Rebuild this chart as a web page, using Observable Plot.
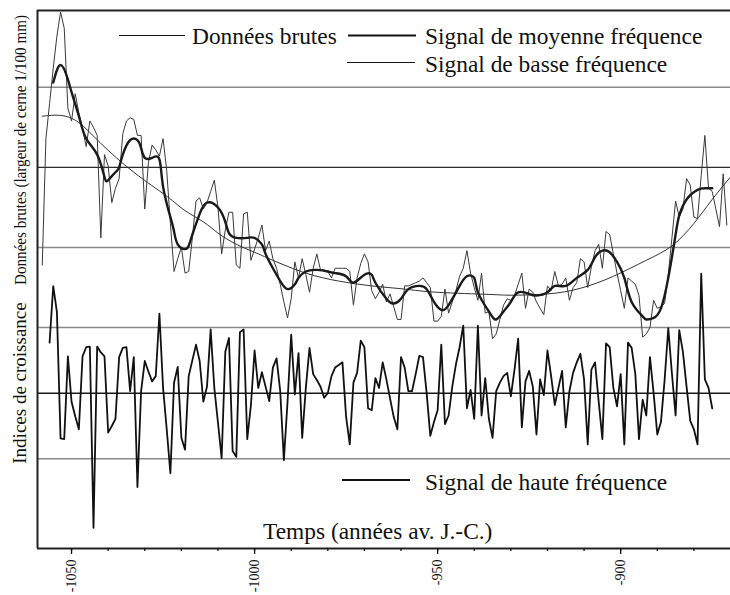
<!DOCTYPE html>
<html><head><meta charset="utf-8">
<script src="https://cdn.jsdelivr.net/npm/d3@7"></script>
<script src="https://cdn.jsdelivr.net/npm/@observablehq/plot@0.6"></script>
<style>body{margin:0;background:#fff}#chart{width:730px;height:595px}</style>
</head><body><div id="chart"></div>
<script>
// ---------- data ----------
// Raw ring widths (1/100 mm), one value per year starting at rawStart
const rawStart = -1058;
const rawValues = [
 89,168,190,212,232,247,237,187,179,196, 184,174,163,179,175,170,106,158,151,128,
 137,143,171,179,181,180,170,170,124,153, 164,161,157,168,148,115,85,93,100,84,
 85,106,129,131,124,128,135,142,125,96, 111,122,122,89,87,121,122,92,99,106,
 114,98,104,93,87,77,66,56,68,91, 81,93,83,72,87,96,86,86,85,81,
 87,87,87,87,85,64,81,90,96,91, 73,68,72,77,66,71,63,55,55,76,
 76,77,78,79,81,78,75,54,54,57, 74,59,66,73,82,87,98,84,75,67,
 84,59,60,43,46,55,64,68,67,70, 77,84,62,74,72,66,62,58,76,73,
 85,76,77,81,67,75,78,93,91,75, 88,98,102,87,110,108,96,84,73,62,
 81,79,77,70,44,46,50,67,62,63, 65,83,106,129,119,124,143,139,119,118,
 145,170,137,135,124,113,146,114
];
// High-frequency growth indices (deviation units), one per year from hfStart
const hfStart = -1056;
const hfValues = [
 0.77,1.63,1.24,-0.69,-0.70,0.56,-0.13,-0.35,-0.55,0.56, 0.70,0.71,-2.05,0.71,0.62,0.56,-0.60,-0.50,-0.39,0.55,
 0.69,0.70,0.03,0.55,-1.43,0.03,0.49,0.33,0.18,0.26, 1.21,0.08,-0.55,-1.22,0.16,0.40,-0.68,-0.86,0.26,0.50,
 0.74,0.49,-0.13,0.10,0.97,0.08,-0.45,-0.99,0.63,0.84, -0.88,-0.97,0.93,0.97,-0.70,-0.18,0.65,0.08,0.32,0.10,
 -0.12,0.39,0.53,0.03,-1.02,-0.13,0.89,-0.02,0.61,-0.68, 0.08,0.69,0.29,0.20,0.10,-0.07,0.00,0.26,0.39,0.43,
 0.47,-0.36,-0.78,0.16,0.31,0.80,0.70,-0.23,-0.26,0.23, 0.08,0.47,0.21,-0.08,-0.36,-0.55,0.55,0.39,0.03,0.03,
 0.29,0.57,0.55,0.00,-0.65,-0.44,-0.26,0.74,-0.47,-0.34, 0.10,0.44,0.70,1.03,-0.23,0.05,-0.39,1.03,-0.34,0.23,
 -0.39,-0.68,0.03,0.16,0.26,0.31,-0.05,0.36,0.83,-0.52, 0.18,0.34,0.10,-0.63,0.21,-0.03,0.65,0.26,-0.18,0.08,
 0.34,-0.52,0.03,0.31,0.47,0.60,0.21,-0.78,0.36,0.47, -0.13,-0.70,0.76,0.70,0.08,-0.20,0.29,-0.78,0.77,0.69,
 0.29,-0.70,-0.10,-0.34,0.55,0.00,-0.63,-0.44,0.20,0.99, 0.30,-0.34,0.96,0.63,0.10,-0.42,-0.55,-0.78,1.82,0.21,
 0.08,-0.23
];
// Medium-frequency signal (smooth curve), sampled years and values
const mediumYears = [-1055,-1053,-1051,-1050,-1048,-1046,-1043,-1041,-1040,-1038,-1037,-1036,-1034,-1032,-1031,-1030,-1028,-1026,-1025,-1023,-1022,-1021,-1019,-1018,-1017,-1015,-1013,-1010,-1008,-1007,-1005,-1002,-1000,-998,-997,-995,-993,-991,-989,-988,-986,-983,-980,-978,-975,-973,-970,-968,-967,-964,-962,-960,-958,-955,-953,-951,-949,-947,-944,-942,-940,-939,-936,-934,-932,-930,-928,-925,-923,-920,-918,-915,-912,-909,-907,-905,-903,-901,-899,-897,-894,-893,-891,-889,-887,-885,-884,-882,-879,-877,-875];
const mediumValues = [203,214,205,197,182,168,158,144,142,147,150,158,167,167,162,156,156,155,138,119,110,102,99,101,108,121,128,125,116,109,106,106,106,102,96,87,79,74,77,81,85,86,85,84,82,78,83,83,78,68,65,68,74,76,74,66,61,64,76,82,81,72,60,55,60,66,72,71,70,72,76,76,81,86,94,98,97,91,81,66,57,55,56,62,81,108,120,130,136,137,137];
// Low-frequency signal (age trend)
const lowYears = [-1058,-1053,-1048,-1042,-1033,-1024,-1019,-1014,-1010,-1005,-1000,-995,-986,-977,-968,-959,-950,-936,-930,-920,-911,-902,-893,-886,-880,-875,-870];
const lowValues = [182,182.5,178,165,147,132,123,116,109,102,97,92,84,79,76,74,72,70.7,70.2,71,74.5,82,92,101,115,130,144];
// Axis / grid
const tickYears = [-1050,-1000,-950,-900];
const minorTickYears = [-1050,-1040,-1030,-1020,-1010,-1000,-990,-980,-970,-960,-950,-940,-930,-920,-910,-900,-890,-880];
const gridGrayRaw = [200,100,50];
const gridDarkRaw = [150];
const gridGrayIdx = [-1];
const gridDarkIdx = [0];

// ---------- scales ----------
const X_DOMAIN = [-1059.3, -870];
const Y_DOMAIN = [-88, 248];          // raw-width units
const IDX_ZERO = 9, IDX_UNIT = 41;    // index panel placed on the same axis
const idxY = v => IDX_ZERO + v * IDX_UNIT;

const raw = rawValues.map((v, i) => ({year: rawStart + i, v}));
const hf = hfValues.map((v, i) => ({year: hfStart + i, v}));
const medium = mediumYears.map((year, i) => ({year, v: mediumValues[i]}));
const low = lowYears.map((year, i) => ({year, v: lowValues[i]}));

const FONT = "'Liberation Serif', 'DejaVu Serif', serif";

const chart = Plot.plot({
  width: 730, height: 595,
  marginTop: 10, marginLeft: 37, marginRight: 0, marginBottom: 47,
  style: {fontFamily: FONT, background: "#fff", color: "#111"},
  x: {domain: X_DOMAIN},
  y: {domain: Y_DOMAIN, axis: null},
  marks: [
    Plot.ruleY(gridGrayRaw, {y: d => d, stroke: "#8a8a8a", strokeWidth: 1.5}),
    Plot.ruleY(gridDarkRaw, {y: d => d, stroke: "#2a2a2a", strokeWidth: 1.3}),
    Plot.ruleY(gridGrayIdx, {y: d => idxY(d), stroke: "#8a8a8a", strokeWidth: 1.5}),
    Plot.ruleY(gridDarkIdx, {y: d => idxY(d), stroke: "#1a1a1a", strokeWidth: 1.5}),
    Plot.line(low, {x: "year", y: "v", curve: "natural", stroke: "#333", strokeWidth: 1}),
    Plot.line(raw, {x: "year", y: "v", stroke: "#3a3a3a", strokeWidth: 1}),
    Plot.line(medium, {x: "year", y: "v", curve: "natural", stroke: "#1a1a1a", strokeWidth: 2.4}),
    Plot.line(hf, {x: "year", y: d => idxY(d.v), stroke: "#111", strokeWidth: 1.8}),
    Plot.ruleX([X_DOMAIN[0]], {stroke: "#222", strokeWidth: 2}),
    Plot.ruleY([Y_DOMAIN[1]], {stroke: "#222", strokeWidth: 2.2}),
    Plot.ruleY([Y_DOMAIN[0]], {stroke: "#222", strokeWidth: 2}),
    Plot.axisX({ticks: minorTickYears, tickSize: 3, tickFormat: () => "", label: null, strokeWidth: 1.3}),
    Plot.axisX({ticks: tickYears, tickSize: 6, tickPadding: 5, tickRotate: -90,
      tickFormat: d => String(d), fontSize: 14, label: null, strokeWidth: 1.3})
  ]
});
document.getElementById("chart").append(chart);

// ---------- legend & titles (real text) ----------
const svg = d3.select(chart);
const g = svg.append("g").attr("font-family", FONT).attr("fill", "#111").attr("text-anchor", "start");
function swatch(x1, x2, y, w) {
  g.append("line").attr("x1", x1).attr("x2", x2).attr("y1", y).attr("y2", y)
    .attr("stroke", "#111").attr("stroke-width", w);
}
function label(x, y, s, size) {
  return g.append("text").attr("x", x).attr("y", y).attr("font-size", size)
    .attr("text-anchor", "start").text(s);
}
swatch(119, 185, 35.5, 1); label(192, 43.5, "Données brutes", 23.4);
swatch(348, 416, 35.5, 2.2); label(425, 43.5, "Signal de moyenne fréquence", 23.4);
swatch(347, 415, 62.5, 1.2); label(425, 71.5, "Signal de basse fréquence", 23.4);
swatch(342, 410, 480, 1.8); label(425, 489.5, "Signal de haute fréquence", 23.4);
label(263, 538.5, "Temps (années av. J.-C.)", 23.4);

// condensed vertical title: scale along the text direction to fit 270 px
const yTitle = g.append("text").attr("text-anchor", "middle").attr("font-size", 17)
  .text("Données brutes (largeur de cerne 1/100 mm)");
const natural = yTitle.node().getComputedTextLength() || 304;
yTitle.attr("transform", `translate(26,150) rotate(-90) scale(${Math.min(1, 270 / natural)},1)`);
g.append("text").attr("transform", "translate(25.5,383) rotate(-90)")
  .attr("text-anchor", "middle").attr("font-size", 19)
  .text("Indices de croissance");
</script></body></html>
